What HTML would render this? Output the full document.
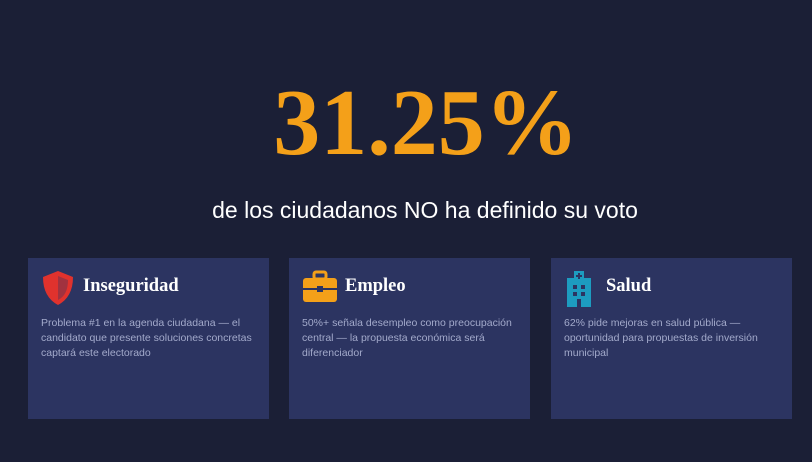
<!DOCTYPE html>
<html><head><meta charset="utf-8"><style>
body{margin:0;width:812px;height:462px;background:#1b1f36;overflow:hidden;font-family:"Liberation Sans",sans-serif;position:relative}
.big{position:absolute;left:20px;width:812px;top:68px;text-align:center;font-family:"Liberation Serif",serif;font-weight:bold;font-size:94px;line-height:110px;color:#f4a019}
.sub{position:absolute;left:19px;width:812px;top:195px;text-align:center;color:#fff;font-size:23px;line-height:30px}
.card{position:absolute;top:258px;width:241px;height:161px;background:#2c3461}
.t{position:absolute;left:55px;top:18px;font-family:"Liberation Serif",serif;font-weight:bold;font-size:18.5px;color:#fff}
.d{position:absolute;left:13px;top:58px;width:224px;font-size:10.5px;line-height:15px;color:#a3aacb}
.ic{position:absolute;left:13px;top:12px}
</style></head><body>
<div class="big">31.25%</div>
<div class="sub">de los ciudadanos NO ha definido su voto</div>
<div class="card" style="left:28px">
<svg class="ic" width="34" height="36" viewBox="0 0 34 36"><path d="M17 1 L32 7 Q32 27 17 35 Q2 27 2 7 Z" fill="#e0322d"/><path d="M17 6 L27 10 Q27 25 17 30 Z" fill="#2c3461" opacity=".35"/></svg>
<div class="t">Inseguridad</div>
<div class="d">Problema #1 en la agenda ciudadana — el candidato que presente soluciones concretas captará este electorado</div></div>
<div class="card" style="left:289px">
<svg class="ic" width="36" height="34" viewBox="0 0 36 34"><rect x="12" y="2" width="12" height="7" rx="2" fill="none" stroke="#f4a019" stroke-width="3"/><rect x="1" y="8" width="34" height="24" rx="3" fill="#f4a019"/><rect x="1" y="18" width="34" height="2" fill="#2c3461"/><rect x="15" y="16" width="6" height="6" fill="#2c3461"/></svg>
<div class="t" style="left:56px">Empleo</div>
<div class="d">50%+ señala desempleo como preocupación central — la propuesta económica será diferenciador</div></div>
<div class="card" style="left:551px">
<svg class="ic" width="30" height="38" viewBox="0 0 30 38"><rect x="10" y="1" width="10" height="10" fill="#1d9cc0"/><rect x="3" y="8" width="24" height="29" fill="#1d9cc0"/><path d="M15 3v6M12 6h6" stroke="#2c3461" stroke-width="2"/><rect x="9" y="15" width="4" height="4" fill="#2c3461"/><rect x="17" y="15" width="4" height="4" fill="#2c3461"/><rect x="9" y="22" width="4" height="4" fill="#2c3461"/><rect x="17" y="22" width="4" height="4" fill="#2c3461"/><rect x="13" y="29" width="4" height="8" fill="#2c3461"/></svg>
<div class="t">Salud</div>
<div class="d">62% pide mejoras en salud pública — oportunidad para propuestas de inversión municipal</div></div>
</body></html>
